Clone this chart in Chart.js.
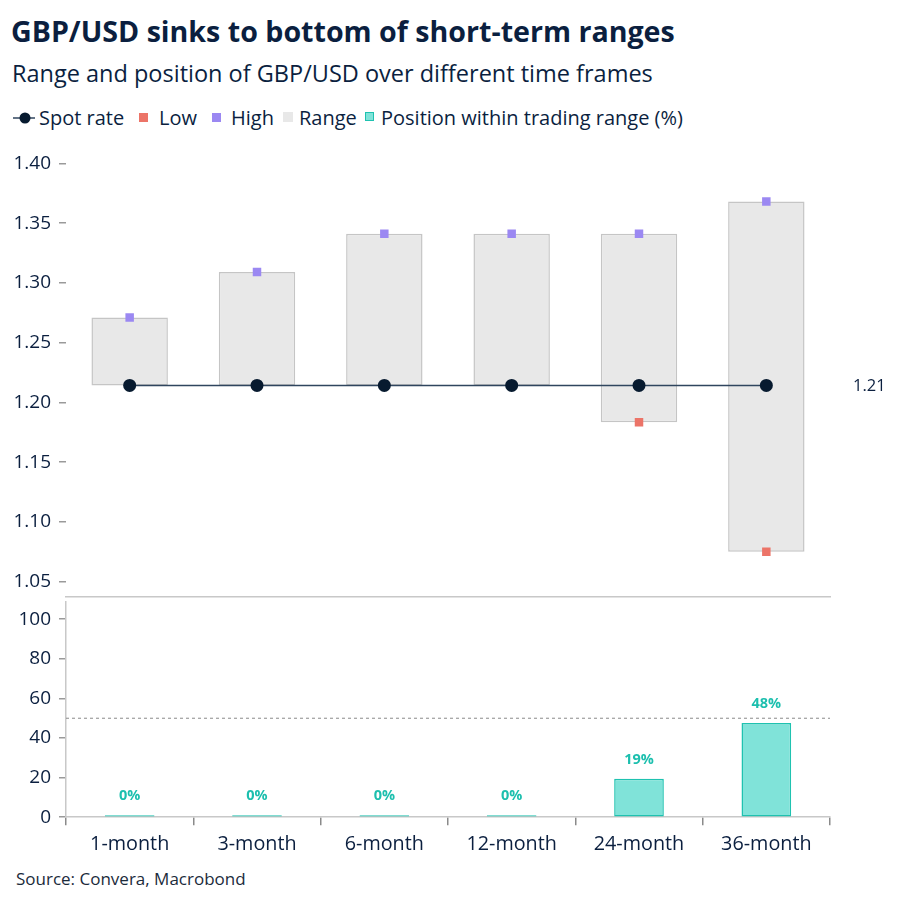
<!DOCTYPE html>
<html><head><meta charset="utf-8">
<script src="https://cdn.jsdelivr.net/npm/chart.js@4.4.1/dist/chart.umd.min.js"></script>
<style>
html,body{margin:0;padding:0;background:#fff;}
body{width:906px;height:909px;position:relative;overflow:hidden;font-family:"Open Sans",sans-serif;color:#0b1f3f;}
#title{position:absolute;left:11px;top:11px;font-size:28.6px;font-weight:700;white-space:nowrap;}
#subtitle{position:absolute;left:12px;top:57px;font-size:23.5px;white-space:nowrap;}
#legend{position:absolute;left:0;top:104px;width:906px;height:28px;font-size:20px;}
#legend .t{position:absolute;top:0;white-space:nowrap;line-height:28px;}
#legend .sq{position:absolute;top:9px;width:9px;height:9px;}
#source{position:absolute;left:16px;top:867px;font-size:17px;color:#1b2b3b;white-space:nowrap;}
#topWrap{position:absolute;left:0;top:132px;width:906px;height:484px;}
#botWrap{position:absolute;left:0;top:582px;width:906px;height:285px;}
</style></head>
<body>
<div id="title">GBP/USD sinks to bottom of short-term ranges</div>
<div id="subtitle">Range and position of GBP/USD over different time frames</div>
<div id="legend">
  <svg style="position:absolute;left:13px;top:7px" width="22" height="14"><line x1="0" y1="7" x2="22" y2="7" stroke="#2f455e" stroke-width="1.5"/><circle cx="12" cy="7" r="5.5" fill="#071a2f"/></svg>
  <span class="t" style="left:39px">Spot rate</span>
  <span class="sq" style="left:139px;background:#ec7468"></span>
  <span class="t" style="left:159px">Low</span>
  <span class="sq" style="left:212px;background:#9b88f2"></span>
  <span class="t" style="left:231px">High</span>
  <span class="sq" style="left:283px;top:8px;width:10px;height:10px;background:#e8e8e8"></span>
  <span class="t" style="left:299px">Range</span>
  <span class="sq" style="left:365px;top:8px;width:7px;height:7px;background:#80e3d9;border:1.5px solid #1fc2b0"></span>
  <span class="t" style="left:381px">Position within trading range (%)</span>
</div>
<div id="topWrap"><canvas id="topChart"></canvas></div>
<div id="botWrap"><canvas id="botChart"></canvas></div>
<div id="source">Source: Convera, Macrobond</div>
<script>
const categories = ['1-month','3-month','6-month','12-month','24-month','36-month'];
const spotRate = [1.2142,1.2142,1.2142,1.2142,1.2142,1.2142];
const lowValues = [1.2142,1.2142,1.2142,1.2142,1.1833,1.0750];
const highValues = [1.2710,1.3090,1.3410,1.3410,1.3410,1.3680];
const positionPct = [0,0,0,0,19.4,47.6];
const topTicks = [1.05,1.10,1.15,1.20,1.25,1.30,1.35,1.40];
const bottomTicks = [0,20,40,60,80,100];
const midLine = 50;
const spotLabel = '1.21';

const navy = '#0b1f3f';
const fontFam = '"Open Sans", sans-serif';
Chart.defaults.font.family = fontFam;
Chart.defaults.color = navy;
Chart.defaults.animation = false;

const rangeData = categories.map((c,i)=>[lowValues[i], highValues[i]]);

const spotLabelPlugin = {
  id:'spotLabel',
  afterDatasetsDraw(chart){
    const meta = chart.getDatasetMeta(2);
    const pt = meta.data[meta.data.length-1];
    const ctx = chart.ctx;
    ctx.save();
    ctx.font = '16.5px ' + fontFam;
    ctx.fillStyle = navy;
    ctx.textAlign = 'left';
    ctx.textBaseline = 'middle';
    ctx.fillText(spotLabel, chart.chartArea.right + 23, pt.y + 1);
    ctx.restore();
  }
};

new Chart(document.getElementById('topChart'), {
  type:'bar',
  data:{
    labels:categories,
    datasets:[
      {type:'line', label:'Low', data:lowValues, showLine:false, pointStyle:'rect', pointRadius:6, pointHoverRadius:6, pointBackgroundColor:'#ec7468', pointBorderWidth:0, order:2},
      {type:'line', label:'High', data:highValues, showLine:false, pointStyle:'rect', pointRadius:6, pointHoverRadius:6, pointBackgroundColor:'#9b88f2', pointBorderWidth:0, order:2},
      {type:'line', label:'Spot rate', data:spotRate, borderColor:'#2f455e', borderWidth:1.5, pointRadius:6.5, pointHoverRadius:6.5, pointBackgroundColor:'#071a2f', pointBorderWidth:0, order:1},
      {type:'bar', label:'Range', data:rangeData, backgroundColor:'#e8e8e8', borderColor:'#c5c5c5', borderWidth:1.5, borderSkipped:false, barPercentage:0.6, categoryPercentage:1, grouped:false, order:3}
    ]
  },
  options:{
    responsive:true, maintainAspectRatio:false,
    layout:{padding:{top:9,right:76,bottom:0,left:0}},
    plugins:{legend:{display:false}, tooltip:{enabled:false}},
    scales:{
      x:{display:true, ticks:{display:false}, grid:{display:false, drawTicks:false}, border:{display:true, color:'#c8c8c8', width:1.5}},
      y:{min:1.0375, max:1.41,
        afterBuildTicks(s){ s.ticks = topTicks.map(v=>({value:v})); },
        afterFit(s){ s.width = 66; },
        ticks:{font:{size:19}, color:navy, padding:8, callback:(v)=>Number(v).toFixed(2)},
        grid:{drawOnChartArea:false, drawTicks:true, tickLength:7, color:'#9a9a9a', lineWidth:1.5},
        border:{display:false}
      }
    }
  },
  plugins:[spotLabelPlugin]
});

const midLinePlugin = {
  id:'midLine',
  beforeDatasetsDraw(chart){
    const y = chart.scales.y.getPixelForValue(midLine);
    const ctx = chart.ctx;
    ctx.save();
    ctx.strokeStyle = '#8a8a8a';
    ctx.lineWidth = 1;
    ctx.setLineDash([3,3]);
    ctx.beginPath();
    ctx.moveTo(chart.chartArea.left, y);
    ctx.lineTo(chart.chartArea.right, y);
    ctx.stroke();
    ctx.restore();
  }
};
const pctLabelPlugin = {
  id:'pctLabel',
  afterDatasetsDraw(chart){
    const meta = chart.getDatasetMeta(0);
    const ctx = chart.ctx;
    ctx.save();
    ctx.font = 'bold 14.5px ' + fontFam;
    ctx.fillStyle = '#1cbfae';
    ctx.textAlign = 'center';
    ctx.textBaseline = 'middle';
    meta.data.forEach((bar,i)=>{
      ctx.fillText(Math.round(positionPct[i]) + '%', bar.x, bar.y - 19);
    });
    ctx.restore();
  }
};

new Chart(document.getElementById('botChart'), {
  type:'bar',
  data:{
    labels:categories,
    datasets:[
      {label:'Position within trading range (%)', data:positionPct, backgroundColor:'#80e3d9', borderColor:'#1fc2b0', borderWidth:1.5, borderSkipped:false, barPercentage:0.39, categoryPercentage:1, minBarLength:2}
    ]
  },
  options:{
    responsive:true, maintainAspectRatio:false,
    layout:{padding:{top:4,right:76,bottom:4,left:0}},
    plugins:{legend:{display:false}, tooltip:{enabled:false}},
    scales:{
      x:{
        ticks:{font:{size:19.8}, color:navy, padding:7},
        grid:{offset:true, drawOnChartArea:false, drawTicks:true, tickLength:8, lineWidth:1.5,
          color:(c)=> c.index === categories.length ? 'rgba(0,0,0,0)' : '#8a8a8a'},
        border:{display:true, color:'#c8c8c8', width:1.5}
      },
      y:{min:0, max:109,
        afterBuildTicks(s){ s.ticks = bottomTicks.map(v=>({value:v})); },
        afterFit(s){ s.width = 66; },
        ticks:{font:{size:19}, color:navy, padding:8},
        grid:{drawOnChartArea:false, drawTicks:true, tickLength:7, color:'#9a9a9a', lineWidth:1.5},
        border:{display:true, color:'#c8c8c8', width:1.5}
      }
    }
  },
  plugins:[midLinePlugin, pctLabelPlugin]
});
</script>
</body></html>
